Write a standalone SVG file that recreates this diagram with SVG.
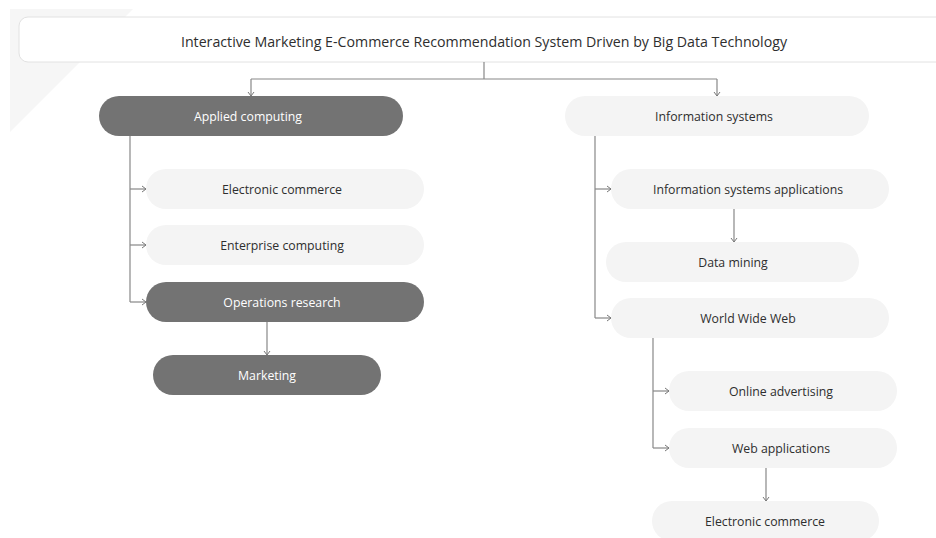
<svg xmlns="http://www.w3.org/2000/svg" width="936" height="538" viewBox="0 0 936 538">
<defs>
<marker id="arr" markerWidth="10" markerHeight="10" refX="7" refY="5" orient="auto" markerUnits="userSpaceOnUse">
<path d="M3,2 L7,5 L3,8" fill="none" stroke="#777" stroke-width="1"/>
</marker>
<style>
.light{fill:#f4f4f4;}
.dark{fill:#737373;}
.t{font-family:"Open Sans","Noto Sans",sans-serif;font-size:12.3px;text-anchor:middle;dominant-baseline:central;fill:#2e2e2e;}
.tw{font-family:"Open Sans","Noto Sans",sans-serif;font-size:12.3px;text-anchor:middle;dominant-baseline:central;fill:#fff;}
.c{fill:none;stroke:#888;stroke-width:1.2;}
</style>
</defs>
<rect width="936" height="538" fill="#fff"/>
<polygon points="10,9 133,9 10,132" fill="#f6f6f6"/>
<g id="title">
<rect x="19" y="17" width="930" height="45" rx="9" fill="#fff" stroke="#e2e2e2" stroke-width="1"/>
<text x="484" y="41" class="t" style="font-size:14.2px">Interactive Marketing E-Commerce Recommendation System Driven by Big Data Technology</text>
</g>
<g id="connectors">
<path class="c" d="M484,62 V79"/>
<path class="c" d="M251,79 H717"/>
<path class="c" d="M251,79 V96" marker-end="url(#arr)"/>
<path class="c" d="M717,79 V96" marker-end="url(#arr)"/>
<path class="c" d="M130,136 V302"/>
<path class="c" d="M130,189 H146" marker-end="url(#arr)"/>
<path class="c" d="M130,245 H146" marker-end="url(#arr)"/>
<path class="c" d="M130,302 H146" marker-end="url(#arr)"/>
<path class="c" d="M267,322 V355" marker-end="url(#arr)"/>
<path class="c" d="M595,136 V318"/>
<path class="c" d="M595,189 H611" marker-end="url(#arr)"/>
<path class="c" d="M595,318 H611" marker-end="url(#arr)"/>
<path class="c" d="M734,209 V242" marker-end="url(#arr)"/>
<path class="c" d="M653,338 V448"/>
<path class="c" d="M653,391 H669" marker-end="url(#arr)"/>
<path class="c" d="M653,448 H669" marker-end="url(#arr)"/>
<path class="c" d="M766,468 V501" marker-end="url(#arr)"/>
</g>
<g id="applied-computing"><rect class="dark" x="99" y="96" width="304" height="40" rx="20"/><text class="tw" x="248" y="116">Applied computing</text></g>
<g id="electronic-commerce-1"><rect class="light" x="146" y="169" width="278" height="40" rx="20"/><text class="t" x="282" y="189">Electronic commerce</text></g>
<g id="enterprise-computing"><rect class="light" x="146" y="225" width="278" height="40" rx="20"/><text class="t" x="282" y="245">Enterprise computing</text></g>
<g id="operations-research"><rect class="dark" x="146" y="282" width="278" height="40" rx="20"/><text class="tw" x="282" y="302">Operations research</text></g>
<g id="marketing"><rect class="dark" x="153" y="355" width="228" height="40" rx="20"/><text class="tw" x="267" y="375">Marketing</text></g>
<g id="information-systems"><rect class="light" x="565" y="96" width="304" height="40" rx="20"/><text class="t" x="714" y="116">Information systems</text></g>
<g id="information-systems-applications"><rect class="light" x="611" y="169" width="278" height="40" rx="20"/><text class="t" x="748" y="189">Information systems applications</text></g>
<g id="data-mining"><rect class="light" x="606" y="242" width="253" height="40" rx="20"/><text class="t" x="733" y="262">Data mining</text></g>
<g id="world-wide-web"><rect class="light" x="611" y="298" width="278" height="40" rx="20"/><text class="t" x="748" y="318">World Wide Web</text></g>
<g id="online-advertising"><rect class="light" x="669" y="371" width="228" height="40" rx="20"/><text class="t" x="781" y="391">Online advertising</text></g>
<g id="web-applications"><rect class="light" x="669" y="428" width="228" height="40" rx="20"/><text class="t" x="781" y="448">Web applications</text></g>
<g id="electronic-commerce-2"><rect class="light" x="652" y="501" width="227" height="40" rx="20"/><text class="t" x="765" y="521">Electronic commerce</text></g>
</svg>
